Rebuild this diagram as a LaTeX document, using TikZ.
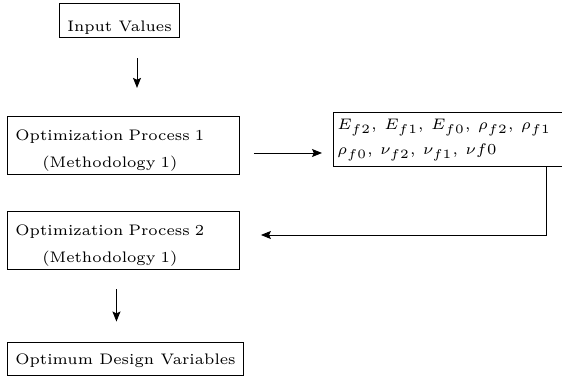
\documentclass[tikz,border=0pt]{standalone}
\usepackage{amsmath}
\usepackage{graphicx}
\usepackage{tikz}
\usetikzlibrary{arrows.meta,calc}

\newcommand{\figtext}[1]{\scalebox{1.4}{#1}}

\begin{document}
\begin{tikzpicture}[->,>={Stealth[length=5.5pt,width=4.4pt,inset=1pt]},line width=0.5pt,x=0.55pt,y=-0.55pt]
\tikzstyle{block}=[draw=black,text=black,inner xsep=4.4pt,inner ysep=1pt]
\tikzset{font=\fontsize{6pt}{7.2}\selectfont}

        \useasboundingbox (0,0) rectangle (562,378);

        \node[block,minimum width=64.35pt,minimum height=18.7pt]                                     (input)  at (119.5,20)  {\figtext{\rule{0pt}{9.9pt}Input Values}};
        \node[block,anchor=west,text width=118.8pt,align=left,minimum height=30.25pt]                (op1)    at (7,145.5)   {\figtext{\begin{tabular}{@{}c@{}}\rule{0pt}{8.6pt}Optimization Process 1\\[3.5pt](Methodology 1)\end{tabular}}};
        \node[block,anchor=west,inner xsep=2.2pt,text width=123.75pt,align=left,minimum height=29.7pt] (params) at (333,139) {\figtext{\begin{tabular}{@{}l@{}}$E_{f2}$,\, $E_{f1}$,\, $E_{f0}$,\, $\rho_{f2}$,\, $\rho_{f1}$\\[2.6pt]$\rho_{f0}$,\, $\nu_{f2}$,\, $\nu_{f1}$,\, $\nu f0$\end{tabular}}};
        \node[block,anchor=west,text width=118.8pt,align=left,minimum height=30.25pt]                (op2)    at (7,240.5)   {\figtext{\begin{tabular}{@{}c@{}}\rule{0pt}{8.6pt}Optimization Process 2\\[3.5pt](Methodology 1)\end{tabular}}};
        \node[block,minimum width=123.75pt,minimum height=18.15pt]                                   (opt)    at (125.5,358.5) {\figtext{\rule{0pt}{6.3pt}Optimum Design Variables}};

        \coordinate (a1) at ($(input.south)+(17.5,0)$);
        \coordinate (a2) at ($(op1.east)+(0,7.5)$);
        \coordinate (b1) at ($(params.south west)+(213,0)$);
        \coordinate (b2) at ($(op2.east)+(0,-5.5)$);
        \coordinate (a3) at ($(op2.south)+(-7,0)$);

        \draw[shorten <=11.55pt,shorten >=15.4pt] (a1) -- (a1 |- op1.north);
        \draw[shorten <=7.7pt,shorten >=6.05pt]   (a2) -- (a2 -| params.west);
        \draw[shorten >=11.55pt]                  (b1) |- (b2);
        \draw[shorten <=10.45pt,shorten >=11pt]   (a3) -- (a3 |- opt.north);

\end{tikzpicture}
\end{document}
